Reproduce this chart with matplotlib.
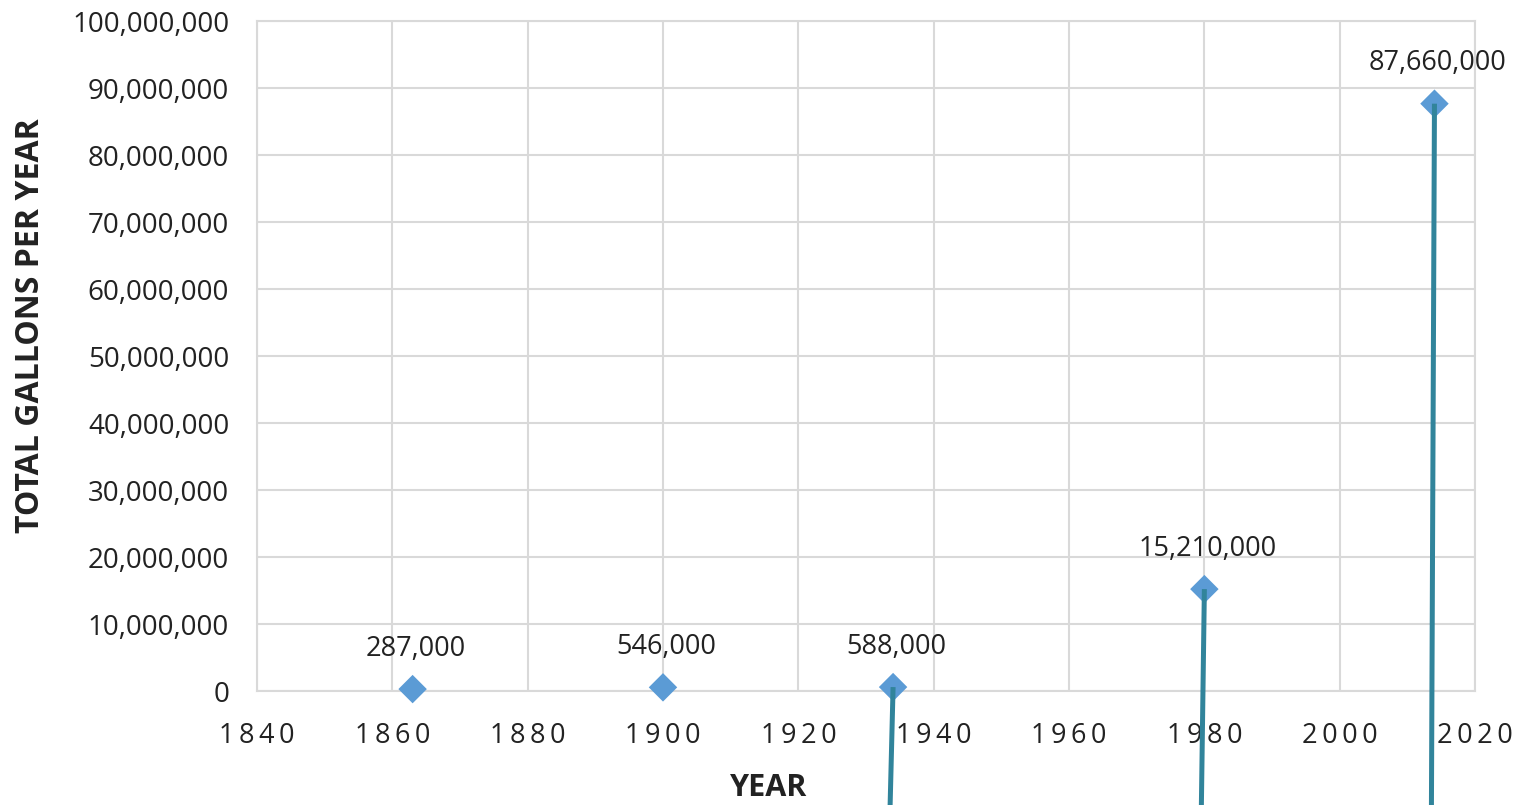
import matplotlib.pyplot as plt
from matplotlib.ticker import FuncFormatter

# data
years = [1863, 1900, 1934, 1980, 2014]
gallons = [287000, 546000, 588000, 15210000, 87660000]
labels = ["287,000", "546,000", "588,000", "15,210,000", "87,660,000"]

# teal callout lines run from these points down off the chart
line_years = [1934, 1980, 2014]
line_values = [588000, 15210000, 87660000]

plt.rcParams['font.family'] = ['Open Sans', 'DejaVu Sans']

fig = plt.figure(figsize=(15.16, 8.05), dpi=100)
ax = fig.add_axes([0.1695, 0.1416, 0.8035, 0.8323])

ax.set_xlim(1840, 2020)
ax.set_ylim(0, 100000000)
ax.set_xticks(range(1840, 2021, 20))
ax.set_yticks(range(0, 100000001, 10000000))
ax.yaxis.set_major_formatter(FuncFormatter(lambda v, p: f"{int(v):,}"))
# the year labels are letter-spaced in the original
ax.xaxis.set_major_formatter(FuncFormatter(lambda v, p: "\u2009".join(str(int(v)))))

ax.grid(True, color="#D9D9D9", linewidth=1.5)
ax.set_axisbelow(True)
for s in ax.spines.values():
    s.set_color("#D9D9D9")
    s.set_linewidth(1.5)
ax.tick_params(length=0, labelsize=20, colors="#222222")
ax.tick_params(axis="y", pad=20)
ax.tick_params(axis="x", pad=22, labelsize=19.5)

ax.scatter(years, gallons, marker="D", s=210, color="#5B9BD5", zorder=3,
           clip_on=False, edgecolors="none")

for x, y, lab in zip(years, gallons, labels):
    ax.annotate(lab, (x, y), xytext=(2, 29), textcoords="offset points",
                ha="center", va="center", fontsize=19.5, color="#222222")

for x, y in zip(line_years, line_values):
    ax.plot([x, x - 0.45], [y, -17500000], color="#31849B",
            linewidth=3.6, clip_on=False, zorder=4, solid_capstyle="butt")

ax.set_xlabel("YEAR", fontsize=22, fontweight="bold", color="#222222")
ax.xaxis.set_label_coords(0.42, -0.145)
ax.xaxis.label.set_va("center")
ax.set_ylabel("TOTAL GALLONS PER YEAR", fontsize=23, fontweight="bold",
              color="#222222")
ax.yaxis.set_label_coords(-0.1856, 0.546)
ax.yaxis.label.set_va("center")

fig.savefig("out.png", dpi=100)
